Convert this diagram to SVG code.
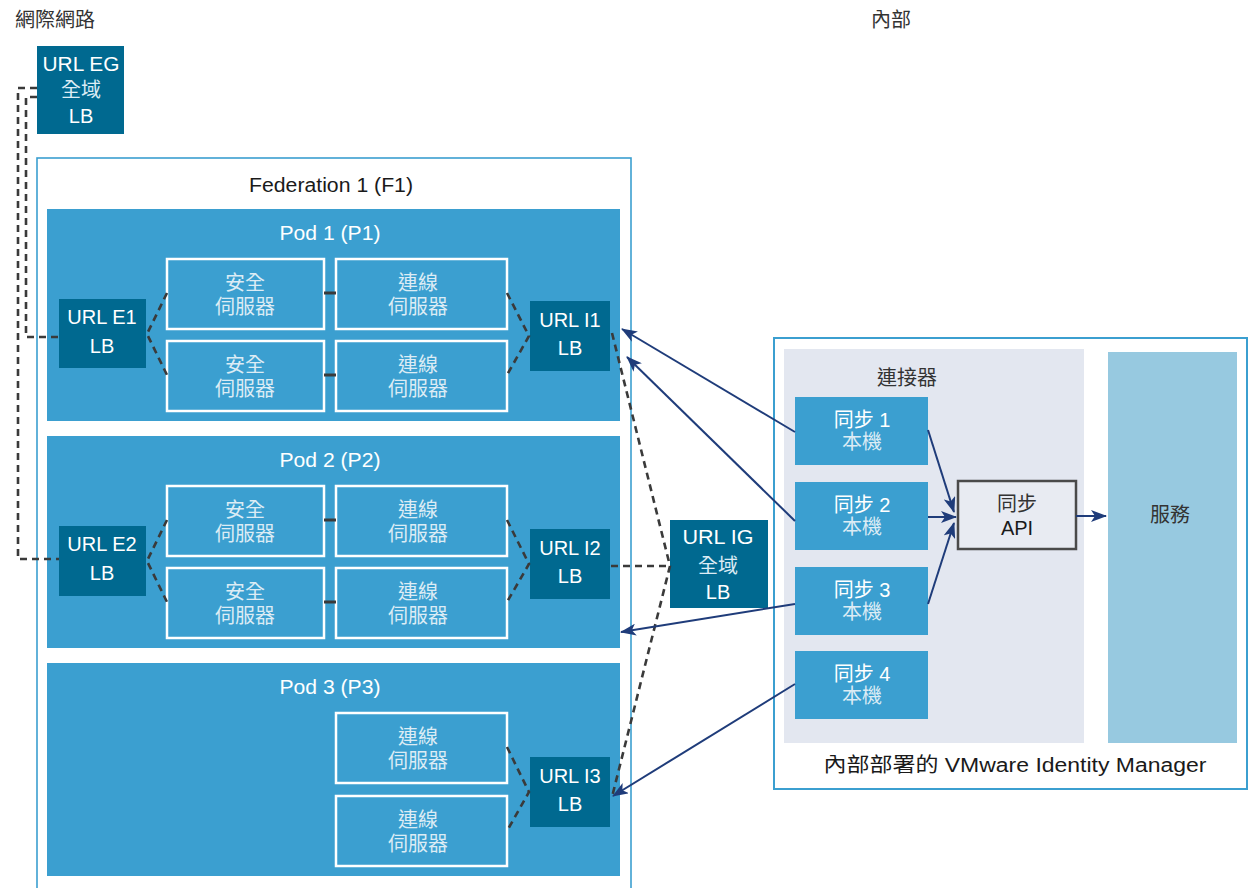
<svg xmlns="http://www.w3.org/2000/svg" width="1248" height="888" viewBox="0 0 1248 888">
<style>
text{font-family:"Liberation Sans","Noto Sans CJK TC",sans-serif;font-size:20px;text-anchor:middle}
.lbl{fill:#333333}
.blk{fill:#1a1a1a}
.w{fill:#ffffff}
.cj{fill:#dcecf5}
.pod{fill:#3b9fd0}
.dark{fill:#006990}
.srv{fill:none;stroke:#ffffff;stroke-width:2.5}
.fed{fill:none;stroke:#3b9fd0;stroke-width:1.6}
.dash{fill:none;stroke:#3a3a3a;stroke-width:2.6;stroke-dasharray:7 5}
.solid{fill:none;stroke:#3a3a3a;stroke-width:3}
.arr{fill:none;stroke:#1f3c7a;stroke-width:2;marker-end:url(#ah)}
</style>
<defs>
<marker id="ah" viewBox="0 0 16 12" refX="15" refY="6" markerWidth="16" markerHeight="12" markerUnits="userSpaceOnUse" orient="auto">
<path d="M0,0 L16,6 L0,12 L4,6 Z" fill="#1f3c7a"/>
</marker>
</defs>
<rect width="1248" height="888" fill="#ffffff"/>

<g id="labels">
<text class="lbl" x="55" y="27" font-size="21">網際網路</text>
<text class="lbl" x="891" y="27" font-size="21">內部</text>
</g>

<g id="url-eg">
<rect class="dark" x="37" y="46" width="87" height="88"/>
<text class="w" x="81" y="71" font-size="21" textLength="77" lengthAdjust="spacingAndGlyphs">URL EG</text>
<text class="cj" x="81" y="97" font-size="21">全域</text>
<text class="w" x="81" y="123" font-size="21">LB</text>
</g>

<g id="federation">
<rect class="fed" x="37" y="158" width="594" height="740"/>
<text class="blk" x="331" y="192" font-size="21" textLength="164" lengthAdjust="spacingAndGlyphs">Federation 1 (F1)</text>
</g>

<g id="pod1">
<rect class="pod" x="47" y="209" width="573" height="212"/>
<text class="w" x="330" y="240" font-size="21" textLength="101" lengthAdjust="spacingAndGlyphs">Pod 1 (P1)</text>
</g>
<g id="pod2">
<rect class="pod" x="47" y="436" width="573" height="212"/>
<text class="w" x="330" y="467" font-size="21" textLength="101" lengthAdjust="spacingAndGlyphs">Pod 2 (P2)</text>
</g>
<g id="pod3">
<rect class="pod" x="47" y="663" width="573" height="213"/>
<text class="w" x="330" y="694" font-size="21" textLength="101" lengthAdjust="spacingAndGlyphs">Pod 3 (P3)</text>
</g>

<g id="url-e1">
<rect class="dark" x="59" y="299" width="87" height="69"/>
<text class="w" x="102" y="324" font-size="18">URL E1</text>
<text class="w" x="102" y="353" font-size="18">LB</text>
</g>
<g id="url-e2">
<rect class="dark" x="59" y="526" width="87" height="70"/>
<text class="w" x="102" y="551" font-size="18">URL E2</text>
<text class="w" x="102" y="580" font-size="18">LB</text>
</g>

<g id="p1-sec1"><rect class="srv" x="167" y="259" width="157" height="70"/><text class="cj" x="245" y="290">安全</text><text class="cj" x="245" y="314">伺服器</text></g>
<g id="p1-sec2"><rect class="srv" x="167" y="341" width="157" height="70"/><text class="cj" x="245" y="372">安全</text><text class="cj" x="245" y="396">伺服器</text></g>
<g id="p1-con1"><rect class="srv" x="336" y="259" width="171" height="70"/><text class="cj" x="418" y="290">連線</text><text class="cj" x="418" y="314">伺服器</text></g>
<g id="p1-con2"><rect class="srv" x="336" y="341" width="171" height="70"/><text class="cj" x="418" y="372">連線</text><text class="cj" x="418" y="396">伺服器</text></g>

<g id="p2-sec1"><rect class="srv" x="167" y="486" width="157" height="70"/><text class="cj" x="245" y="517">安全</text><text class="cj" x="245" y="541">伺服器</text></g>
<g id="p2-sec2"><rect class="srv" x="167" y="568" width="157" height="70"/><text class="cj" x="245" y="599">安全</text><text class="cj" x="245" y="623">伺服器</text></g>
<g id="p2-con1"><rect class="srv" x="336" y="486" width="171" height="70"/><text class="cj" x="418" y="517">連線</text><text class="cj" x="418" y="541">伺服器</text></g>
<g id="p2-con2"><rect class="srv" x="336" y="568" width="171" height="70"/><text class="cj" x="418" y="599">連線</text><text class="cj" x="418" y="623">伺服器</text></g>

<g id="p3-con1"><rect class="srv" x="336" y="713" width="171" height="70"/><text class="cj" x="418" y="744">連線</text><text class="cj" x="418" y="768">伺服器</text></g>
<g id="p3-con2"><rect class="srv" x="336" y="796" width="171" height="70"/><text class="cj" x="418" y="827">連線</text><text class="cj" x="418" y="851">伺服器</text></g>

<g id="url-i1">
<rect class="dark" x="530" y="301" width="80" height="70"/>
<text class="w" x="570" y="327" font-size="18">URL I1</text>
<text class="w" x="570" y="355" font-size="18">LB</text>
</g>
<g id="url-i2">
<rect class="dark" x="530" y="529" width="80" height="70"/>
<text class="w" x="570" y="555" font-size="18">URL I2</text>
<text class="w" x="570" y="583" font-size="18">LB</text>
</g>
<g id="url-i3">
<rect class="dark" x="530" y="757" width="80" height="70"/>
<text class="w" x="570" y="783" font-size="18">URL I3</text>
<text class="w" x="570" y="811" font-size="18">LB</text>
</g>

<g id="url-ig">
<rect class="dark" x="670" y="520" width="98" height="88"/>
<text class="w" x="718" y="544" font-size="21" textLength="71" lengthAdjust="spacingAndGlyphs">URL IG</text>
<text class="cj" x="718" y="573" font-size="21">全域</text>
<text class="w" x="718" y="599" font-size="21">LB</text>
</g>

<g id="vmware">
<rect x="774" y="338" width="473" height="451" fill="none" stroke="#3b9fd0" stroke-width="2"/>
<text class="blk" x="1015" y="772" font-size="20" textLength="383" lengthAdjust="spacingAndGlyphs">內部部署的 VMware Identity Manager</text>
</g>
<g id="connector">
<rect x="784" y="349" width="300" height="394" fill="#e3e7f0"/>
<text class="lbl" x="907" y="385" font-size="21">連接器</text>
</g>
<g id="service">
<rect x="1108" y="352" width="129" height="391" fill="#97c9e0"/>
<text class="lbl" x="1170" y="522" font-size="21">服務</text>
</g>
<g id="sync1"><rect class="pod" x="795" y="397" width="133" height="68"/><text class="w" x="862" y="427">同步 1</text><text class="cj" x="862" y="449" font-size="18">本機</text></g>
<g id="sync2"><rect class="pod" x="795" y="482" width="133" height="68"/><text class="w" x="862" y="512">同步 2</text><text class="cj" x="862" y="534" font-size="18">本機</text></g>
<g id="sync3"><rect class="pod" x="795" y="567" width="133" height="68"/><text class="w" x="862" y="597">同步 3</text><text class="cj" x="862" y="619" font-size="18">本機</text></g>
<g id="sync4"><rect class="pod" x="795" y="651" width="133" height="68"/><text class="w" x="862" y="681">同步 4</text><text class="cj" x="862" y="703" font-size="18">本機</text></g>
<g id="sync-api">
<rect x="958" y="481" width="118" height="68" fill="#e8ebf2" stroke="#4a4a4a" stroke-width="2.5"/>
<text class="lbl" x="1017" y="511">同步</text>
<text class="blk" x="1017" y="535">API</text>
</g>

<g id="connectors">
<polyline class="dash" points="37,88 18,88 18,559 59,559"/>
<polyline class="dash" points="37,97 26,97 26,337 59,337"/>
<polyline class="dash" points="167,293 147,334 167,375"/>
<polyline class="dash" points="507,293 529,336 507,375"/>
<polyline class="dash" points="167,520 147,561 167,602"/>
<polyline class="dash" points="507,520 529,564 507,602"/>
<polyline class="dash" points="507,747 529,792 507,831"/>
<line class="dash" x1="611" y1="566" x2="670" y2="566"/>
<polyline class="dash" points="612,333 670,566 612,797"/>
<line class="solid" x1="324" y1="293" x2="336" y2="293"/>
<line class="solid" x1="324" y1="375" x2="336" y2="375"/>
<line class="solid" x1="324" y1="520" x2="336" y2="520"/>
<line class="solid" x1="324" y1="602" x2="336" y2="602"/>
<line class="arr" x1="795" y1="432" x2="622" y2="329"/>
<line class="arr" x1="795" y1="521" x2="627" y2="357"/>
<line class="arr" x1="795" y1="604" x2="621" y2="632"/>
<line class="arr" x1="795" y1="684" x2="613" y2="796"/>
<line class="arr" x1="928" y1="430" x2="954" y2="512"/>
<line class="arr" x1="928" y1="517" x2="956" y2="517"/>
<line class="arr" x1="928" y1="604" x2="954" y2="523"/>
<line class="arr" x1="1076" y1="516" x2="1106" y2="516"/>
</g>
</svg>
